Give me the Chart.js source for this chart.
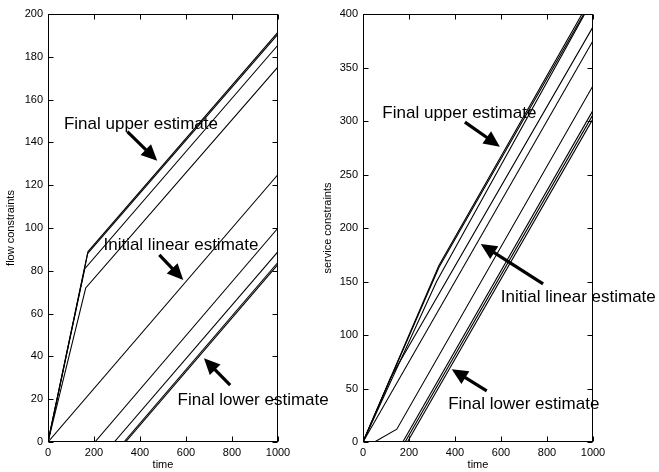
<!DOCTYPE html>
<html>
<head>
<meta charset="utf-8">
<title>flow / service constraints</title>
<script src="https://cdn.jsdelivr.net/npm/chart.js@4.4.1/dist/chart.umd.min.js"></script>
<style>
    html, body { margin: 0; padding: 0; background: #fff; }
    #page { position: relative; width: 659px; height: 472px; overflow: hidden; }
    #page canvas { position: absolute; top: 0; }
</style>
</head>
<body>
<div id="page">
    <canvas id="flowChart" width="340" height="472" style="left:0"></canvas>
    <canvas id="serviceChart" width="349" height="472" style="left:310px"></canvas>
</div>
<script>
// ======================
// DATA
// ======================
const timeTicks = [0, 200, 400, 600, 800, 1000];
const flowTicks = [0, 20, 40, 60, 80, 100, 120, 140, 160, 180, 200];
const serviceTicks = [0, 50, 100, 150, 200, 250, 300, 350, 400];

// left panel, points are [time, value]
const flowUpperA = [[0, 0], [174, 89], [1000, 191.5]];
const flowUpperB = [[0, 0], [172, 88], [1000, 190.6]];
const flowUpperC = [[0, 0], [160, 81], [1000, 185.5]];
const flowUpperD = [[0, 0], [164, 72], [1000, 175.3]];
const flowInitial = [[0, 0], [1000, 125]];
const flowLowerA = [[204, 0], [1000, 100]];
const flowLowerB = [[288, 0], [1000, 89]];
const flowLowerC = [[330, 0], [1000, 84]];
const flowLowerD = [[337, 0], [1000, 83]];

// right panel
const serviceUpperA = [[0, 0], [330, 165], [1000, 418]];
const serviceUpperB = [[0, 0], [330, 163], [1000, 415]];
const serviceUpperC = [[0, 0], [320, 150], [1000, 414]];
const serviceMid = [[0, 0], [120, 60], [1000, 388]];
const serviceInitial = [[0, 0], [1000, 375]];
const serviceDelay = [[0, 0], [50, 0], [147, 12], [1000, 333]];
const serviceLowerA = [[173, 0], [1000, 310]];
const serviceLowerB = [[183, 0], [1000, 306]];
const serviceLowerC = [[193, 0], [1000, 302]];

// annotations : text anchor (centre / baseline) and arrow tail -> tip, in data units
const flowNotes = [
    { text: 'Final upper estimate', at: [404, 146.3], from: [345, 145], to: [475, 131.4] },
    { text: 'Initial linear estimate', at: [578, 89.7], from: [484, 87.4], to: [588, 75.7] },
    { text: 'Final lower estimate', at: [892, 17.3], from: [792, 26.6], to: [678, 39.1] }
];
const serviceNotes = [
    { text: 'Final upper estimate', at: [419, 302.5], from: [443, 299], to: [595, 276] },
    { text: 'Initial linear estimate', at: [936, 130.6], from: [783, 147.7], to: [512, 185] },
    { text: 'Final lower estimate', at: [699, 30.8], from: [538, 47.7], to: [386, 68] }
];

const FONT = "'Liberation Sans', Arial, sans-serif";
const tickFont = { family: FONT, size: 11 };

// ======================
// PLUGINS
// ======================
// box round the plot + inward ticks on the four sides
const boxPlugin = {
    id: 'box',
    afterDraw(chart) {
        const { ctx, chartArea: a, scales: { x, y } } = chart;
        const L = Math.round(a.left) + 0.5, R = Math.round(a.right) - 0.5;
        const T = Math.round(a.top) + 0.5, B = Math.round(a.bottom) - 0.5;
        const len = 5;
        ctx.save();
        ctx.strokeStyle = '#000';
        ctx.lineWidth = 1;
        ctx.strokeRect(L, T, R - L, B - T);
        ctx.beginPath();
        x.ticks.forEach(t => {
            const px = Math.round(x.getPixelForValue(t.value)) + 0.5;
            ctx.moveTo(px, B); ctx.lineTo(px, B - len);
            ctx.moveTo(px, T); ctx.lineTo(px, T + len);
        });
        y.ticks.forEach(t => {
            const py = Math.round(y.getPixelForValue(t.value)) + 0.5;
            ctx.moveTo(L, py); ctx.lineTo(L + len, py);
            ctx.moveTo(R, py); ctx.lineTo(R - len, py);
        });
        ctx.stroke();
        ctx.restore();
    }
};

function drawArrow(ctx, x0, y0, x1, y1) {
    const dx = x1 - x0, dy = y1 - y0, d = Math.hypot(dx, dy);
    const ux = dx / d, uy = dy / d;
    const head = 16, half = 7.5;
    const bx = x1 - ux * head, by = y1 - uy * head;
    ctx.lineWidth = 3.2;
    ctx.beginPath();
    ctx.moveTo(x0, y0);
    ctx.lineTo(bx + ux, by + uy);
    ctx.stroke();
    ctx.beginPath();
    ctx.moveTo(x1, y1);
    ctx.lineTo(bx - uy * half, by + ux * half);
    ctx.lineTo(bx + uy * half, by - ux * half);
    ctx.closePath();
    ctx.fill();
}

function notesPlugin(notes) {
    return {
        id: 'notes',
        afterDraw(chart) {
            const { ctx, scales: { x, y } } = chart;
            ctx.save();
            ctx.fillStyle = '#000';
            ctx.strokeStyle = '#000';
            ctx.font = '17px ' + FONT;
            ctx.textAlign = 'center';
            ctx.textBaseline = 'alphabetic';
            notes.forEach(n => {
                drawArrow(ctx,
                    x.getPixelForValue(n.from[0]), y.getPixelForValue(n.from[1]),
                    x.getPixelForValue(n.to[0]), y.getPixelForValue(n.to[1]));
                ctx.fillText(n.text, x.getPixelForValue(n.at[0]), y.getPixelForValue(n.at[1]));
            });
            ctx.restore();
        }
    };
}

// ======================
// CHARTS
// ======================
function makeChart(canvasId, series, yTicks, yTitle, notes, layout) {
    const datasets = series.map(s => ({
        data: s.map(p => ({ x: p[0], y: p[1] })),
        borderColor: '#000',
        borderWidth: 1.1,
        pointRadius: 0,
        fill: false,
        tension: 0
    }));

    return new Chart(document.getElementById(canvasId), {
        type: 'line',
        data: { datasets },
        options: {
            responsive: false,
            animation: false,
            events: [],
            layout: { padding: layout.padding },
            plugins: {
                legend: { display: false },
                tooltip: { enabled: false }
            },
            scales: {
                x: {
                    type: 'linear',
                    min: timeTicks[0],
                    max: timeTicks[timeTicks.length - 1],
                    afterBuildTicks: s => { s.ticks = timeTicks.map(v => ({ value: v })); },
                    ticks: {
                        color: '#000', font: tickFont, padding: 4, maxRotation: 0, autoSkip: false,
                        callback: v => String(v)
                    },
                    grid: { display: false, drawTicks: false },
                    border: { display: false },
                    title: { display: true, text: 'time', color: '#000', font: tickFont, padding: 0 },
                    afterFit: s => { s.height = 30; }
                },
                y: {
                    type: 'linear',
                    min: yTicks[0],
                    max: yTicks[yTicks.length - 1],
                    afterBuildTicks: s => { s.ticks = yTicks.map(v => ({ value: v })); },
                    ticks: {
                        color: '#000', font: tickFont, padding: 5, autoSkip: false,
                        callback: v => String(v)
                    },
                    grid: { display: false, drawTicks: false },
                    border: { display: false },
                    title: {
                        display: true, text: yTitle, color: '#000', font: tickFont,
                        padding: { top: layout.titleGap, bottom: 0 }
                    },
                    afterFit: s => { s.width = layout.yWidth; }
                }
            }
        },
        plugins: [boxPlugin, notesPlugin(notes)]
    });
}

makeChart('flowChart',
    [flowUpperA, flowUpperB, flowUpperC, flowUpperD, flowInitial,
     flowLowerA, flowLowerB, flowLowerC, flowLowerD],
    flowTicks, 'flow constraints', flowNotes,
    { padding: { left: 0, right: 62, top: 14, bottom: 0 }, yWidth: 48, titleGap: 4 });

makeChart('serviceChart',
    [serviceUpperA, serviceUpperB, serviceUpperC, serviceMid, serviceInitial,
     serviceDelay, serviceLowerA, serviceLowerB, serviceLowerC],
    serviceTicks, 'service constraints', serviceNotes,
    { padding: { left: 0, right: 66, top: 14, bottom: 0 }, yWidth: 53, titleGap: 11 });
</script>
</body>
</html>
